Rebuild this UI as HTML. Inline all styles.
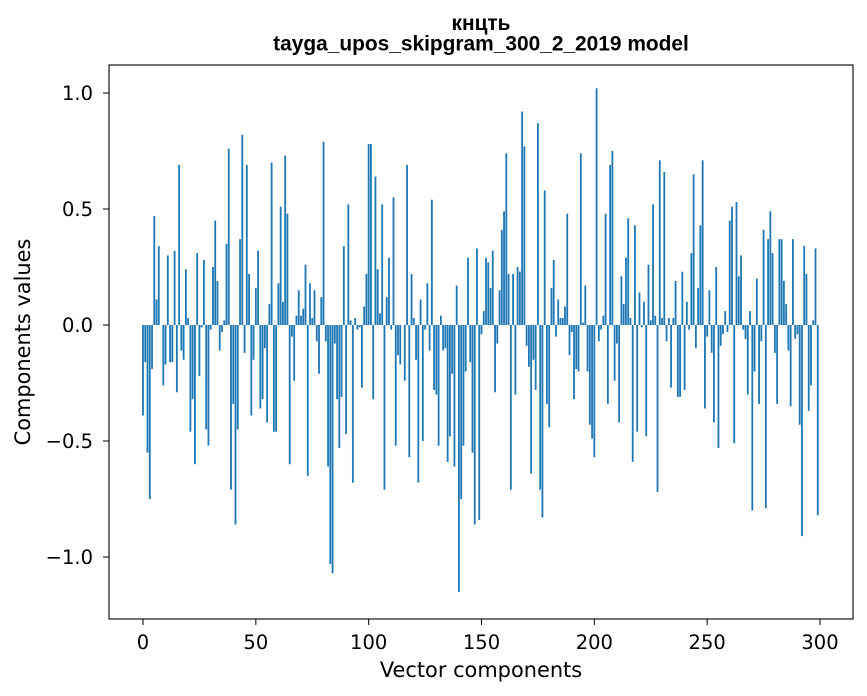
<!DOCTYPE html>
<html><head><meta charset="utf-8"><style>
body{margin:0;background:#fff;}
svg{display:block;font-family:"DejaVu Sans","Liberation Sans",sans-serif;}
</style></head><body>
<svg id="chart" width="867" height="696" xmlns="http://www.w3.org/2000/svg">
<text x="481" y="30" text-anchor="middle" font-size="20.9" font-weight="bold" font-family="Liberation Sans, sans-serif">кнцть</text>
<text x="481" y="50.5" text-anchor="middle" font-size="20.9" font-weight="bold" font-family="Liberation Sans, sans-serif">tayga_upos_skipgram_300_2_2019 model</text>
<g id="bars"></g>
<g id="xticks"></g>
<g id="yticks"></g>
<rect x="109" y="65" width="744" height="554" fill="none" stroke="#000" stroke-width="1.1"/>
<text x="481" y="677" text-anchor="middle" font-size="20.9">Vector components</text>
<text transform="translate(30,342) rotate(-90)" text-anchor="middle" font-size="20.9">Components values</text>
</svg>
<script>
const values = [
-0.39,-0.16,-0.55,-0.75,-0.19,0.47,0.11,0.34,0.0,-0.26,
-0.17,0.30,-0.16,-0.16,0.32,-0.29,0.69,-0.11,-0.15,0.24,
0.03,-0.46,-0.32,-0.60,0.31,-0.22,-0.01,0.28,-0.45,-0.52,
-0.02,0.25,0.45,0.19,-0.11,-0.03,0.02,0.35,0.76,-0.71,
-0.34,-0.86,-0.45,0.37,0.82,-0.12,0.69,0.22,-0.39,-0.15,
0.16,0.32,-0.36,-0.32,-0.10,-0.42,0.09,0.70,-0.46,-0.46,
0.18,0.51,0.10,0.73,0.48,-0.60,-0.05,-0.24,0.04,0.15,
0.04,0.07,0.26,-0.65,0.18,0.03,0.15,-0.07,-0.21,0.12,
0.79,-0.07,-0.61,-1.03,-1.07,-0.08,-0.32,-0.53,-0.31,0.34,
-0.47,0.52,0.02,-0.68,0.03,-0.02,-0.01,-0.27,0.08,0.22,
0.78,0.78,-0.32,0.64,0.24,0.05,0.52,-0.71,0.12,0.29,
-0.02,0.55,-0.52,-0.13,-0.17,0.0,-0.24,0.69,-0.57,0.22,
0.03,-0.15,-0.68,0.11,-0.50,-0.02,0.18,-0.11,0.54,-0.28,
-0.30,-0.52,0.04,-0.11,-0.10,-0.59,-0.48,-0.21,-0.61,0.17,
-1.15,-0.75,-0.52,-0.20,0.29,-0.16,-0.55,-0.86,0.33,-0.84,
-0.04,0.06,0.29,0.27,0.16,0.32,-0.29,-0.08,0.15,0.41,
0.49,0.74,0.22,-0.71,0.22,-0.30,0.25,0.23,0.92,0.77,
-0.09,-0.18,-0.64,-0.15,-0.28,0.87,-0.71,-0.83,0.58,-0.34,
-0.44,0.16,0.28,-0.05,0.11,0.03,0.03,0.08,0.48,-0.13,
-0.03,-0.32,-0.19,-0.20,0.74,0.01,0.17,-0.20,-0.43,-0.49,
-0.57,1.02,-0.07,-0.02,0.04,0.48,-0.34,0.69,0.75,-0.24,
-0.08,-0.42,0.21,0.09,0.29,0.46,0.03,-0.59,0.43,-0.46,
0.14,-0.01,0.10,-0.48,0.26,0.02,0.52,0.04,-0.72,0.71,
0.03,0.66,-0.07,0.03,-0.27,0.03,0.19,-0.31,-0.31,0.23,
-0.28,0.10,-0.02,0.31,0.65,-0.10,0.16,0.43,0.71,-0.36,
-0.05,0.15,-0.12,-0.42,0.25,-0.53,-0.09,-0.04,0.06,-0.03,
0.45,0.51,-0.51,0.53,0.21,0.30,-0.02,-0.06,-0.30,0.06,
-0.80,-0.20,0.20,-0.34,-0.07,0.41,-0.79,0.37,0.49,0.31,
-0.12,-0.34,0.37,0.37,0.19,0.09,-0.11,-0.35,0.37,-0.06,
-0.04,-0.43,-0.91,0.34,0.22,-0.37,-0.26,0.02,0.33,-0.82
];
const xTicks = [0,50,100,150,200,250,300];
const yTicks = [-1.0,-0.5,0.0,0.5,1.0];
const yTickLabels = ["\u22121.0","\u22120.5","0.0","0.5","1.0"];

const NS="http://www.w3.org/2000/svg";
const xScale = v => 143 + v*(677/300);
const yScale = v => 325 - v*232;
const bw = 0.8*(677/300);
const gb=document.getElementById('bars');
values.forEach((v,i)=>{
  const r=document.createElementNS(NS,'rect');
  const y0=yScale(0), y1=yScale(v);
  r.setAttribute('x',xScale(i)-bw/2);
  r.setAttribute('y',Math.min(y0,y1));
  r.setAttribute('width',bw);
  r.setAttribute('height',Math.max(Math.abs(y1-y0),0.01));
  r.setAttribute('fill','#1f77b4');
  
  
  gb.appendChild(r);
});
const gx=document.getElementById('xticks');
xTicks.forEach(t=>{
  const x=xScale(t);
  const l=document.createElementNS(NS,'line');
  l.setAttribute('x1',x);l.setAttribute('x2',x);l.setAttribute('y1',619);l.setAttribute('y2',625);
  l.setAttribute('stroke','#000');
  
  
  gx.appendChild(l);
  const tx=document.createElementNS(NS,'text');
  tx.setAttribute('x',x);tx.setAttribute('y',649);tx.setAttribute('text-anchor','middle');tx.setAttribute('font-size','19.5');
  tx.textContent=t;
  
  
  gx.appendChild(tx);
});
const gy=document.getElementById('yticks');
yTicks.forEach((t,i)=>{
  const y=yScale(t);
  const l=document.createElementNS(NS,'line');
  l.setAttribute('x1',103);l.setAttribute('x2',109);l.setAttribute('y1',y);l.setAttribute('y2',y);
  l.setAttribute('stroke','#000');
  
  
  gy.appendChild(l);
  const tx=document.createElementNS(NS,'text');
  tx.setAttribute('x',93);tx.setAttribute('y',y+7);tx.setAttribute('text-anchor','end');tx.setAttribute('font-size','19.5');
  tx.textContent=yTickLabels[i];
  
  
  gy.appendChild(tx);
});
</script>
</body></html>
